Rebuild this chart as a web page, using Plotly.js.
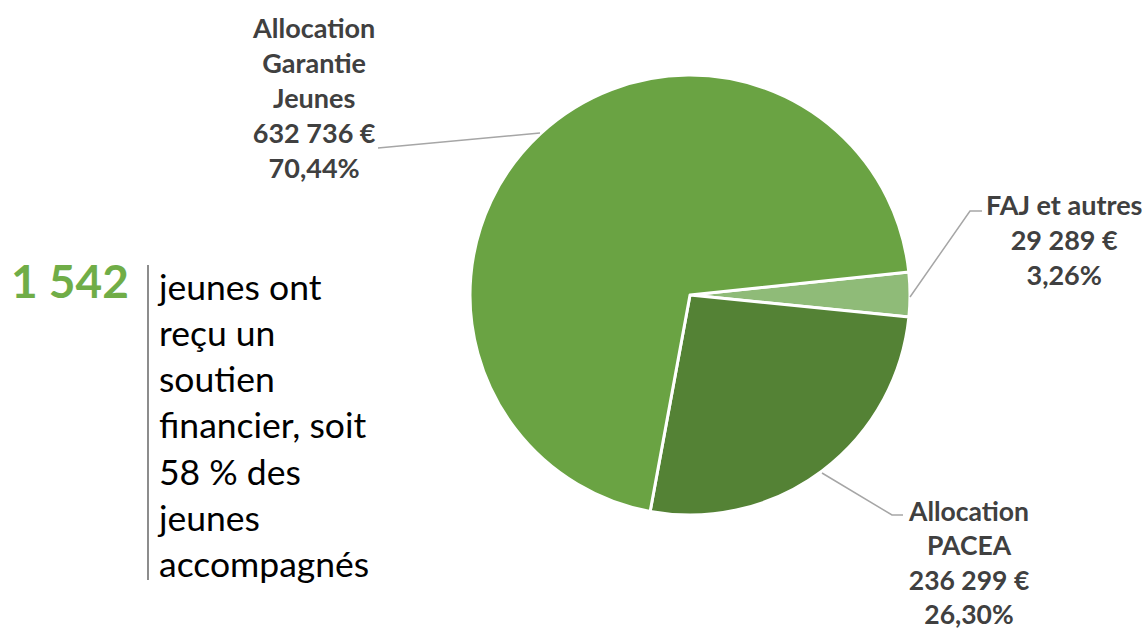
<!DOCTYPE html>
<html><head><meta charset="utf-8">
<script src="https://cdn.plot.ly/plotly-3.0.1.min.js"></script>
<style>html,body{margin:0;padding:0;background:#fff}#chart{width:1145px;height:633px}</style>
</head><body><div id="chart"></div>
<script>
// Data
const categories = ["FAJ et autres", "Allocation PACEA", "Allocation Garantie Jeunes"];
const labelLines = [["FAJ et autres"], ["Allocation", "PACEA"], ["Allocation", "Garantie", "Jeunes"]];
const amounts = [29289, 236299, 632736];
const amountLabels = ["29 289 €", "236 299 €", "632 736 €"];
const percentLabels = ["3,26%", "26,30%", "70,44%"];
const colors = ["#8fbb78", "#548235", "#6aa343"];
const keyNumber = "1 542";
const keyTextLines = ["jeunes ont", "reçu un", "soutien", "financier, soit", "58 % des", "jeunes", "accompagnés"];

const W = 1145, H = 633;
const px = x => x / W, py = y => 1 - y / H;

const labelPos = [
  {x: 1064, y: 240},
  {x: 968, y: 562},
  {x: 314, y: 97}
];
const labelSizes = [27, 26.5, 27];
const leaders = [
  [[910, 297], [970, 211], [982, 211]],
  [[822, 473], [892, 515], [903, 515]],
  [[540, 133], [378, 148]]
];

const annotations = categories.map((c, i) => ({
  xref: 'paper', yref: 'paper', x: px(labelPos[i].x), y: py(labelPos[i].y),
  xanchor: 'center', yanchor: 'middle', showarrow: false, align: 'center',
  text: labelLines[i].concat([amountLabels[i], percentLabels[i]]).join('<br>'),
  font: {family: 'Lato, sans-serif', size: labelSizes[i], color: '#404040', weight: 'bold'}
}));
annotations.push({
  xref: 'paper', yref: 'paper', x: px(9), y: py(280), xanchor: 'left', yanchor: 'middle',
  showarrow: false, text: '<b>' + keyNumber + '</b>',
  font: {family: 'Lato, sans-serif', size: 46, color: '#70ad47'}
});
annotations.push({
  xref: 'paper', yref: 'paper', x: px(155), y: py(425), xanchor: 'left', yanchor: 'middle',
  showarrow: false, align: 'left', text: keyTextLines.join('<br>'),
  font: {family: 'Lato, sans-serif', size: 35.5, color: '#000000'}
});

const shapes = leaders.map(pts => ({
  type: 'path', xref: 'paper', yref: 'paper',
  path: pts.map((p, k) => (k ? 'L' : 'M') + px(p[0]) + ',' + py(p[1])).join(' '),
  line: {color: '#a6a6a6', width: 1.5}
}));
shapes.push({type: 'line', xref: 'paper', yref: 'paper', x0: px(148), x1: px(148), y0: py(265), y1: py(580),
  line: {color: '#404040', width: 1.2}});

const trace = {
  type: 'pie', labels: categories, values: amounts, sort: false,
  direction: 'clockwise', rotation: 84,
  marker: {colors: colors, line: {color: '#ffffff', width: 3}},
  textinfo: 'none', hoverinfo: 'label+value+percent',
  domain: {x: [px(470), px(910)], y: [py(515), py(75)]}
};

Plotly.newPlot('chart', [trace], {
  width: W, height: H, margin: {l: 0, r: 0, t: 0, b: 0},
  paper_bgcolor: '#ffffff', showlegend: false,
  annotations: annotations, shapes: shapes
}, {displayModeBar: false, staticPlot: true});
</script></body></html>
